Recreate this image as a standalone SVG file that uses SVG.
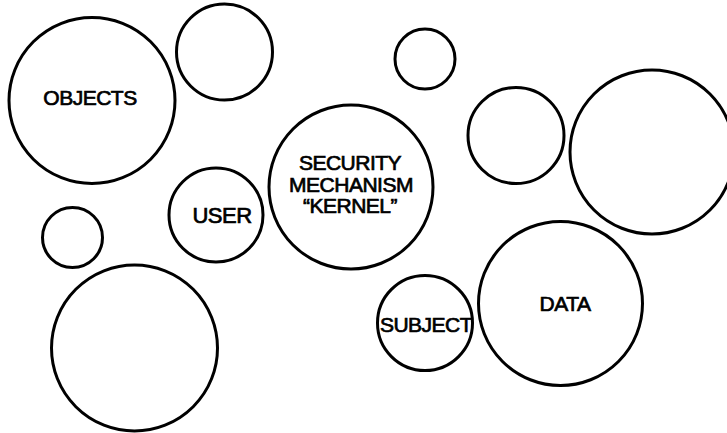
<svg xmlns="http://www.w3.org/2000/svg" width="727" height="433" viewBox="0 0 727 433">
<style>
circle{fill:none;stroke:#000;stroke-width:3}
text{font-family:"Liberation Sans",Arial,sans-serif;font-size:21px;fill:#000;stroke:#000;stroke-width:0.7;text-anchor:middle;letter-spacing:-0.5px}
</style>
<rect width="727" height="433" fill="#fff"/>
<g id="objects"><circle cx="92" cy="100.5" r="83"/><text x="90" y="105">OBJECTS</text></g>
<g id="c-top"><circle cx="224.5" cy="52" r="48"/></g>
<g id="c-small-top"><circle cx="425" cy="59" r="30"/></g>
<g id="c-mid-right"><circle cx="516" cy="135.5" r="48"/></g>
<g id="c-large-right"><circle cx="652" cy="152" r="82"/></g>
<g id="kernel"><circle cx="351" cy="187" r="82"/>
<text x="350" y="170">SECURITY</text><text x="351" y="192">MECHANISM</text><text x="350" y="213">“KERNEL”</text></g>
<g id="user"><circle cx="216" cy="215" r="47"/><text x="222" y="223" style="font-size:22px">USER</text></g>
<g id="c-small-left"><circle cx="72.5" cy="237.5" r="30"/></g>
<g id="c-bottom-left"><circle cx="134.5" cy="348" r="83"/></g>
<g id="subject"><circle cx="425" cy="323" r="47.5"/><text x="426" y="332">SUBJECT</text></g>
<g id="data"><circle cx="560.5" cy="303.5" r="82"/><text x="565" y="311">DATA</text></g>
<g id="connectors"/>
</svg>
